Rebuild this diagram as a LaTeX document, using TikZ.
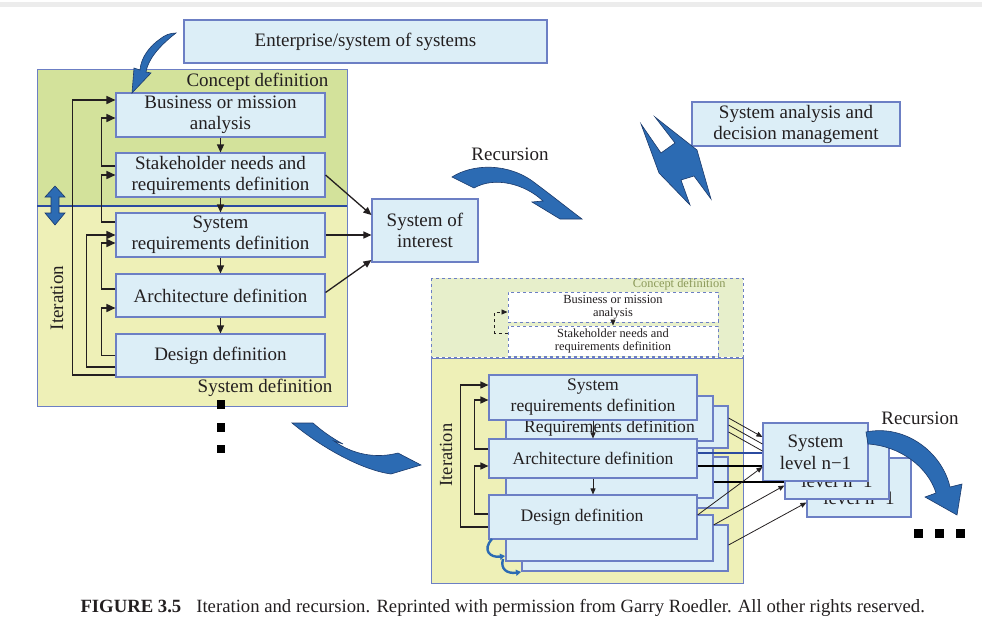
\documentclass[tikz,border=0pt]{standalone}
\usepackage{fontspec}
\setmainfont{Liberation Serif}
\usetikzlibrary{arrows.meta,calc}

\definecolor{boxfill}{HTML}{DCEEF7}
\definecolor{boxline}{HTML}{6C7FC4}
\definecolor{concept}{HTML}{D3E29B}
\definecolor{sysdef}{HTML}{EEF0B7}
\definecolor{sepblue}{HTML}{2B4BA0}
\definecolor{arrowblue}{HTML}{2C6BB3}
\definecolor{arrowedge}{HTML}{1B3A6B}
\definecolor{conceptpale}{HTML}{E7EFCB}
\definecolor{concepttext}{HTML}{8C9A5A}
\definecolor{inkgray}{HTML}{231F20}
\definecolor{topband}{HTML}{ECECEC}

\tikzset{
  stage/.style={draw=boxline, fill=boxfill, line width=1.1pt, inner sep=0pt,
    align=center, text=inkgray, font=\fontsize{19}{21}\selectfont},
  substage/.style={stage, font=\fontsize{17.6}{21}\selectfont},
  ghost/.style={draw=boxline, dashed, fill=white, line width=1pt, inner sep=0pt,
    align=center, text=inkgray, font=\fontsize{12.4}{13.5}\selectfont},
  lvlbox/.style={stage, font=\fontsize{19}{22}\selectfont},
  flow/.style={line width=1.3pt, draw=inkgray, -{Triangle[length=8pt,width=7pt]}},
  feedback/.style={line width=1.6pt, draw=inkgray, -{Triangle[length=9pt,width=8pt]}},
  subfeedback/.style={line width=1.4pt, draw=inkgray, -{Triangle[length=8pt,width=7pt]}},
  thinflow/.style={line width=0.8pt, draw=inkgray, -{Triangle[length=6pt,width=5pt]}},
  swoosh/.style={fill=arrowblue, draw=arrowedge, line width=0.6pt},
  sqdot/.style={fill=black},
  caption/.style={font=\fontsize{18.7}{21}\selectfont, text=inkgray},
  lbl/.style={text=inkgray, font=\fontsize{19}{21}\selectfont},
}

\begin{document}
\begin{tikzpicture}[x=1pt,y=-1pt]
\useasboundingbox (0,0) rectangle (982,627);
\fill[topband] (0,2) rectangle (982,7);

% ---------- upper system: concept and system definition ----------
\fill[concept] (37,69) rectangle (347,206);
\fill[sysdef] (37,206) rectangle (347,406);
\draw[boxline, line width=1pt] (37,69) rectangle (347,406);
\draw[sepblue, line width=2.5pt] (37,206) -- (347,206);
\node[lbl, anchor=east] (conceptlbl) at (332,82) {Concept definition};
\node[lbl] (syslbl) at (265,388) {System definition};

\node[stage, minimum width=209pt, minimum height=44pt] (biz) at (220.5,115) {Business or mission\\analysis};
\node[stage, minimum width=209pt, minimum height=44pt] (stake) at (220.5,175) {Stakeholder needs and\\requirements definition};
\node[stage, minimum width=209pt, minimum height=44pt] (sysreq) at (220.5,235) {System\\requirements definition};
\node[stage, minimum width=209pt, minimum height=43pt] (arch) at (220.5,295.5) {Architecture definition};
\node[stage, minimum width=209pt, minimum height=43pt] (design) at (220.5,355.5) {Design definition};

\draw[flow] (biz) -- (stake);
\draw[flow] (stake) -- (sysreq);
\draw[flow] (sysreq) -- (arch);
\draw[flow] (arch) -- (design);

% iteration loops
\draw[feedback] ($(stake.west)+(0,-9)$) -- ++(-14,0) |- ($(biz.west)+(0,3)$);
\draw[feedback] ($(design.west)+(0,19.5)$) -- ++(-43,0) |- ($(biz.west)+(0,-15)$);
\draw[feedback] ($(sysreq.west)+(0,-13)$) -- ++(-14,0) |- (stake.west);
\draw[feedback] ($(arch.west)+(0,-6.5)$) -- ++(-14,0) |- ($(sysreq.west)+(0,8)$);
\draw[feedback] ($(design.west)+(0,11.5)$) -- ++(-29,0) |- (sysreq.west);
\draw[feedback] (design.west) -- ++(-14,0) |- ($(arch.west)+(0,12.5)$);

% two-way arrow across the phase boundary
\filldraw[swoosh] (55,186) -- (65,197) -- (59,197) -- (59,213) -- (65,213) -- (55,225)
  -- (45,213) -- (51,213) -- (51,197) -- (45,197) -- cycle;
\node[lbl, rotate=90] (iterlbl) at (57,298) {Iteration};

% continuation dots
\fill[sqdot] (217,400) rectangle (225,409);
\fill[sqdot] (217,423) rectangle (225,432);
\fill[sqdot] (217,445) rectangle (225,453);

% ---------- enterprise, system of interest, analysis ----------
\node[stage, minimum width=363pt, minimum height=43pt] (ent) at (365.5,41.5) {Enterprise/system of systems};
\filldraw[swoosh] (160,39) .. controls (150,46) and (141,57) .. (140,70) -- (134,68) -- (132,93)
  -- (151,73) -- (146,72) .. controls (148,60) and (158,47) .. (176,33)
  .. controls (170,33) and (165,35) .. (160,39) -- cycle;

\node[stage, minimum width=106pt, minimum height=63pt] (soi) at (425,230.5) {System of\\interest};
\draw[flow] (stake.east) -- ($(soi.west)+(0,-15.5)$);
\draw[flow] (sysreq.east) -- (sysreq.east -| soi.west);
\draw[flow] ($(arch.east)+(0,-3)$) -- ($(soi.west)+(0,29.5)$);

\node[lbl] (reclbl) at (510,154) {Recursion};
\filldraw[swoosh] (452,177) .. controls (472,164) and (508,162) .. (535,183)
  .. controls (555,198) and (570,210) .. (582,219) -- (560,219) -- (532,202) -- (543,201)
  .. controls (525,184) and (495,176) .. (474,188) -- cycle;

\node[stage, minimum width=208pt, minimum height=44pt] (analysis) at (796,124) {System analysis and\\decision management};
\filldraw[swoosh] (641,124) -- (661,153) -- (675,143) -- (655,117) -- (697,150) -- (711,199)
  -- (694,176) -- (681,180) -- (690,205) -- (659,173) -- cycle;

% recursion arrow to the next level down
\filldraw[swoosh] (292,423) -- (313,423) .. controls (322,431) and (332,438) .. (343,444)
  -- (334,441) .. controls (352,454) and (375,459) .. (398,453) -- (421,465) -- (391,474)
  .. controls (362,470) and (322,448) .. (292,423) -- cycle;

% ---------- lower system: level n-1 ----------
\fill[conceptpale] (431,278) rectangle (743,357);
\draw[boxline, dashed, line width=1pt] (431,278) rectangle (743,357);
\node[anchor=east, text=concepttext, font=\fontsize{12.4}{14}\selectfont] (subconcept) at (729,284) {Concept definition};
\node[ghost, minimum width=210pt, minimum height=30pt] (gbiz) at (613,307) {Business or mission\\analysis};
\node[ghost, minimum width=210pt, minimum height=30pt] (gstake) at (613,341) {Stakeholder needs and\\requirements definition};
\draw[thinflow, line width=0.6pt] (gbiz) -- (gstake);
\draw[thinflow, dashed, line width=0.8pt] ($(gstake.west)+(0,-8)$) -- ++(-13,0) |- ($(gbiz.west)+(0,5)$);

\fill[sysdef] (431,358) rectangle (743,583);
\draw[boxline, line width=1pt] (431,358) rectangle (743,583);

% stacked requirement sheets
\node[substage, minimum width=206pt, minimum height=42pt] (sreqc) at (625,427) {};
\node[substage, minimum width=207pt, minimum height=45pt] (sreqb) at (609.5,418.5) {\phantom{System}\\Requirements definition};
\node[substage, minimum width=208pt, minimum height=45pt] (sreqa) at (593,397.5) {System\\requirements definition};
% stacked architecture sheets
\node[substage, minimum width=206pt, minimum height=51pt] (sarcc) at (625,482.5) {};
\node[substage, minimum width=207pt, minimum height=50pt] (sarcb) at (609.5,473) {};
\node[substage, minimum width=208pt, minimum height=39pt] (sarca) at (593,458.5) {Architecture definition};
% stacked design sheets
\node[substage, minimum width=206pt, minimum height=46pt] (sdesc) at (625,548) {};
\node[substage, minimum width=207pt, minimum height=46pt] (sdesb) at (609.5,538) {};
\node[substage, minimum width=208pt, minimum height=44pt] (sdesa) at (593,517) {Design definition\hspace*{22pt}};

\draw[thinflow] (sreqa) -- (sarca);
\draw[thinflow] (sarca) -- (sdesa);

\draw[subfeedback] ($(sdesa.west)+(0,10)$) -- ++(-28,0) |- ($(sreqa.west)+(0,-12.5)$);
\draw[subfeedback] ($(sarca.west)+(0,-9.5)$) -- ++(-14,0) |- ($(sreqa.west)+(0,2.5)$);
\draw[subfeedback] ($(sdesa.west)+(0,-3)$) -- ++(-14,0) |- ($(sarca.west)+(0,7.5)$);
\node[lbl, rotate=90, font=\fontsize{18.5}{20}\selectfont] (subiter) at (446,455) {Iteration};

% small iteration swirls
\draw[arrowblue, line width=2.4pt, -{Triangle[length=5pt,width=6pt]}] (492,539) .. controls (482,550) and (490,558) .. (505,556);
\draw[arrowblue, line width=2.4pt, -{Triangle[length=5pt,width=6pt]}] (503,559) .. controls (500,569) and (507,574) .. (521,572);

% system level n-1 sheets
\node[lvlbox, minimum width=104pt, minimum height=59pt] (lvlc) at (859,487.5) {\phantom{System}\\level n−1};
\node[lvlbox, minimum width=104pt, minimum height=57pt] (lvlb) at (837,470.5) {\phantom{System}\\level n−1};
\node[lvlbox, minimum width=105pt, minimum height=58pt] (lvla) at (815.5,452) {System\\level n−1};

\draw[thinflow] ($(sreqc.east)+(0,-9)$) -- ($(lvla.west)+(0,-15)$);
\draw[line width=0.8pt, inkgray] ($(sreqc.east)+(0,-2)$) -- ($(lvla.west)+(0,-8)$);
\draw[line width=0.8pt, inkgray] ($(sreqc.east)+(0,5)$) -- ($(lvla.west)+(0,-1)$);
\draw[sepblue, line width=2pt] ($(sarca.east)+(0,-5.5)$) coordinate (bl) -- (bl -| lvla.west);
\draw[black, line width=2.6pt] ($(sarca.east)+(0,7.5)$) coordinate (k1) -- (k1 -| lvla.west);
\draw[black, line width=2.6pt] ($(sarcb.east)+(0,9)$) coordinate (k2) -- (k2 -| lvlb.west);
\draw[thinflow] ($(sdesa.east)+(0,-2)$) -- ($(lvla.west)+(0,15)$);
\draw[thinflow] ($(sdesb.east)+(0,-13)$) -- ($(lvlb.west)+(0,15)$);
\draw[thinflow] ($(sdesc.east)+(0,-3)$) -- ($(lvlc.west)+(0,15)$);

\node[lbl] (reclbl2) at (920,418) {Recursion};
\filldraw[swoosh] (866,432) .. controls (905,424) and (942,452) .. (950,487) -- (962,484) -- (957,515)
  -- (925,497) -- (936,493) .. controls (928,467) and (900,446) .. (868,444) -- cycle;

\fill[sqdot] (914,529) rectangle (923,538);
\fill[sqdot] (935,529) rectangle (944,538);
\fill[sqdot] (956,529) rectangle (965,538);

% ---------- caption ----------
\node[caption, anchor=west] (cap) at (77,608) {\textbf{FIGURE 3.5}\hspace{15pt}Iteration and recursion. Reprinted with permission from Garry Roedler. All other rights reserved.};
\end{tikzpicture}
\end{document}
